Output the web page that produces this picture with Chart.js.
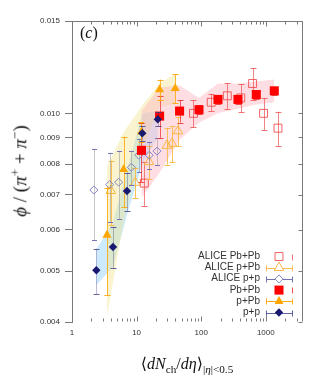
<!DOCTYPE html>
<html><head><meta charset="utf-8">
<script src="https://cdn.jsdelivr.net/npm/chart.js@4"></script>
<style>
html,body{margin:0;padding:0;background:#fff;}
#wrap{position:relative;width:332px;height:380px;overflow:hidden;}
canvas{position:absolute;left:0;top:0;}
.t{position:absolute;font-family:"Liberation Serif","DejaVu Serif",serif;color:#111;white-space:nowrap;}
.lg{position:absolute;right:72px;font-family:"Liberation Sans",Arial,sans-serif;font-size:10px;line-height:12px;color:#333;text-align:right;white-space:nowrap;}
sub,sup{font-size:70%;}
</style></head><body>
<div id="wrap">
<canvas id="c" width="332" height="380"></canvas>
<div class="t" id="lab" style="left:80px;top:25px;font-size:16px;line-height:16px;">(<i>c</i>)</div>
<div class="t" id="yt" style="left:18px;top:171px;font-size:19px;line-height:20px;transform:translate(-50%,-50%) rotate(-90deg);"><i>ϕ</i> / (<i>π</i><sup>+</sup> + <i>π</i><sup>−</sup>)</div>
<div class="t" id="xt" style="left:187px;top:356px;font-size:16px;line-height:16px;transform:translateX(-50%);">⟨<i>dN</i><sub>ch</sub>/<i>dη</i>⟩<sub>|<i>η</i>|&lt;0.5</sub></div>
<div id="legend"></div>
</div>
<script>
// ---- tick labels
const xTickVals = [1, 10, 100, 1000];
const yTickVals = [0.004, 0.005, 0.006, 0.007, 0.008, 0.009, 0.010, 0.015];

// ---- ALICE Pb+Pb
const alicePbPbX = [13.2, 76, 143, 254, 410, 625, 925, 1545];
const alicePbPbY = [0.00736, 0.0100, 0.0105, 0.0108, 0.0107, 0.0114, 0.0100, 0.00937];
const alicePbPbErr = [0.0007, 0.0006, 0.0004, 0.0006, 0.00066, 0.0008, 0.0007, 0.0007];
// ---- ALICE p+Pb
const alicePPbX = [3.99, 9.55, 15.6, 29.5, 35.3, 43.7];
const alicePPbY = [0.00712, 0.00738, 0.00808, 0.00868, 0.00876, 0.00925];
const alicePPbErr = [0.0010, 0.0005, 0.0006, 0.0007, 0.0007, 0.0006];
// ---- ALICE p+p
const alicePPX = [2.18, 3.82, 5.27, 8.28, 10.8, 15.7, 20.7];
const alicePPY = [0.00714, 0.00731, 0.00739, 0.00789, 0.00832, 0.00832, 0.00847];
const alicePPErr = [0.0014, 0.0011, 0.0011, 0.0006, 0.0006, 0.0005, 0.0005];
// ---- Pb+Pb
const pbpbX = [11.9, 22.7, 46.3, 92.5, 182, 371, 713, 1355];
const pbpbY = [0.0085, 0.00988, 0.0101, 0.01016, 0.01063, 0.01063, 0.01086, 0.01104];
const pbpbErr = [0.0011, 0.0009, 0.0005, 0.0002, 0.0002, 0.0002, 0.0002, 0.0002];
const pbpbLo = [0.0069, 0.0077, 0.0089, 0.0096, 0.0100, 0.0102, 0.0104, 0.0105];
const pbpbHi = [0.0101, 0.0112, 0.0113, 0.0107, 0.0114, 0.0114, 0.0115, 0.0116];
// ---- p+Pb
const ppbX = [3.48, 6.29, 11.9, 22.7, 39.7];
const ppbY = [0.00586, 0.00782, 0.00922, 0.0111, 0.01116];
const ppbErr = [0.00136, 0.0012, 0.0004, 0.0005, 0.0007];
const ppbLo = [0.0041, 0.0062, 0.0085, 0.0103, 0.0104];
const ppbHi = [0.0079, 0.0092, 0.0103, 0.0114, 0.0119];
// ---- p+p
const ppX = [2.38, 4.31, 7.10, 12.25, 21.3];
const ppY = [0.00502, 0.00556, 0.00711, 0.00916, 0.00974];
const ppErr = [0.0005, 0.0005, 0.0006, 0.0003, 0.0003];
const ppLo = [0.0047, 0.0051, 0.0064, 0.0080, 0.0090];
const ppHi = [0.0055, 0.0062, 0.0078, 0.0100, 0.0101];

const legendLabels = ['ALICE Pb+Pb', 'ALICE p+Pb', 'ALICE p+p', 'Pb+Pb', 'p+Pb', 'p+p'];

const pts = (xs, ys) => xs.map((x, i) => ({x: x, y: ys[i]}));

function band(xs, ys, color, isLower) {
  return { type: 'line', data: pts(xs, ys), pointRadius: 0, borderWidth: 0, tension: 0,
    backgroundColor: color, borderColor: 'rgba(0,0,0,0)', fill: isLower ? '-1' : false, order: 10 };
}

const datasets = [
  band(pbpbX, pbpbHi, 'rgba(255,182,193,0.45)', false),
  band(pbpbX, pbpbLo, 'rgba(255,182,193,0.45)', true),
  band(ppbX, ppbHi, 'rgba(240,228,140,0.42)', false),
  band(ppbX, ppbLo, 'rgba(240,228,140,0.42)', true),
  band(ppX, ppHi, 'rgba(135,206,250,0.42)', false),
  band(ppX, ppLo, 'rgba(135,206,250,0.42)', true),
  { label: 'ALICE Pb+Pb', data: pts(alicePbPbX, alicePbPbY), err: alicePbPbErr,
    errLine: 'rgba(238,80,80,0.7)', errCap: 'rgba(238,80,80,0.8)', capW: 3,
    pointStyle: 'rect', pointRadius: 5.6, borderWidth: 1, borderColor: 'rgba(240,70,70,0.85)',
    backgroundColor: 'rgba(0,0,0,0)', order: 6 },
  { label: 'ALICE p+Pb', data: pts(alicePPbX, alicePPbY), err: alicePPbErr,
    errLine: 'rgba(250,185,70,0.9)', errCap: 'rgba(250,185,70,0.95)', capW: 3,
    pointStyle: 'triangle', pointRadius: 5.5, borderWidth: 1, borderColor: '#f9b744',
    backgroundColor: 'rgba(0,0,0,0)', order: 5 },
  { label: 'ALICE p+p', data: pts(alicePPX, alicePPY), err: alicePPErr,
    errLine: 'rgba(140,140,150,0.5)', errCap: '#7474b4', capW: 2.5,
    pointStyle: 'rectRot', pointRadius: 4, borderWidth: 1, borderColor: '#8484c4',
    backgroundColor: 'rgba(0,0,0,0)', order: 4 },
  { label: 'Pb+Pb', data: pts(pbpbX, pbpbY), err: pbpbErr,
    errLine: 'rgba(235,50,50,0.75)', errCap: 'rgba(235,50,50,0.85)', capW: 3,
    pointStyle: 'rect', pointRadius: 6.4, borderWidth: 0, backgroundColor: '#ff0000', order: 3 },
  { label: 'p+Pb', data: pts(ppbX, ppbY), err: ppbErr,
    errLine: 'rgba(255,165,0,0.8)', errCap: 'rgba(255,165,0,0.9)', capW: 3,
    pointStyle: 'triangle', pointRadius: 5.2, borderWidth: 0, backgroundColor: '#ffa500', order: 2 },
  { label: 'p+p', data: pts(ppX, ppY), err: ppErr,
    errLine: 'rgba(25,25,112,0.3)', errCap: 'rgba(60,60,140,0.8)', capW: 3,
    pointStyle: 'rectRot', pointRadius: 4.2, borderWidth: 0, backgroundColor: '#191970', order: 1 }
];

const errPlugin = {
  id: 'errbars',
  beforeDatasetDraw(chart, args) {
    const ds = chart.data.datasets[args.index];
    if (!ds.err) return;
    const ctx = chart.ctx, xs = chart.scales.x, ys = chart.scales.y, a = chart.chartArea;
    ctx.save();
    ctx.beginPath(); ctx.rect(a.left, a.top, a.right - a.left, a.bottom - a.top); ctx.clip();
    ctx.lineWidth = 1;
    ds.data.forEach((p, i) => {
      const x = Math.round(xs.getPixelForValue(p.x)) + 0.5;
      const y1 = ys.getPixelForValue(p.y + ds.err[i]);
      const y2 = ys.getPixelForValue(p.y - ds.err[i]);
      ctx.strokeStyle = ds.errLine;
      ctx.beginPath(); ctx.moveTo(x, y1); ctx.lineTo(x, y2); ctx.stroke();
      ctx.strokeStyle = ds.errCap;
      ctx.beginPath();
      ctx.moveTo(x - ds.capW, Math.round(y1) + 0.5); ctx.lineTo(x + ds.capW, Math.round(y1) + 0.5);
      ctx.moveTo(x - ds.capW, Math.round(y2) + 0.5); ctx.lineTo(x + ds.capW, Math.round(y2) + 0.5);
      ctx.stroke();
    });
    ctx.restore();
  }
};

const framePlugin = {
  id: 'frame',
  afterDraw(chart) {
    const ctx = chart.ctx, a = chart.chartArea, xs = chart.scales.x, ys = chart.scales.y;
    const L = Math.round(a.left) + 0.5, R = Math.round(a.right) - 0.5, T = Math.round(a.top) + 0.5, B = Math.round(a.bottom) - 0.5;
    ctx.save();
    ctx.strokeStyle = '#7a7a7a'; ctx.lineWidth = 1;
    ctx.beginPath();
    ctx.moveTo(L, T); ctx.lineTo(R, T); ctx.lineTo(R, B);
    yTickVals.forEach(v => { const y = Math.round(ys.getPixelForValue(v)) + 0.5; ctx.moveTo(R, y); ctx.lineTo(R - 4, y); });
    xTickVals.forEach(d => {
      const xp = Math.round(xs.getPixelForValue(d)) + 0.5;
      if (xp > L + 1 && xp < R - 1) { ctx.moveTo(xp, T); ctx.lineTo(xp, T + 5); ctx.moveTo(xp, B); ctx.lineTo(xp, B - 5); }
      for (let k = 2; k <= 9; k++) {
        const v = k * d;
        if (v >= xs.max) break;
        const x = Math.round(xs.getPixelForValue(v)) + 0.5;
        ctx.moveTo(x, T); ctx.lineTo(x, T + 3); ctx.moveTo(x, B); ctx.lineTo(x, B - 3);
      }
    });
    ctx.stroke();
    ctx.restore();
  }
};

const legendRows = [256.5, 267.7, 278.9, 290.1, 301.3, 312.5];
const legendPlugin = {
  id: 'legendSymbols',
  afterDraw(chart) {
    const ctx = chart.ctx;
    const xm = 279, x0 = 266.5, x1 = 292.5;
    const pointDs = chart.data.datasets.filter(d => d.label);
    pointDs.forEach((ds, i) => {
      const y = Math.round(legendRows[i]) + 0.5;
      ctx.save();
      ctx.lineWidth = 1;
      ctx.strokeStyle = ds.errCap;
      ctx.beginPath();
      if (i === 0 || i === 3) {
        ctx.moveTo(x1, y - 3); ctx.lineTo(x1, y + 3);
      } else {
        ctx.moveTo(x0, y); ctx.lineTo(x1, y);
        ctx.moveTo(x0, y - 3); ctx.lineTo(x0, y + 3);
        ctx.moveTo(x1, y - 3); ctx.lineTo(x1, y + 3);
      }
      ctx.stroke();
      ctx.fillStyle = ds.backgroundColor === 'rgba(0,0,0,0)' ? '#ffffff' : ds.backgroundColor;
      ctx.strokeStyle = ds.borderColor || ds.backgroundColor;
      ctx.lineWidth = ds.borderWidth;
      Chart.helpers.drawPoint(ctx, { pointStyle: ds.pointStyle, radius: ds.pointRadius, rotation: 0, borderWidth: ds.borderWidth }, xm, legendRows[i]);
      ctx.restore();
    });
  }
};

const lg = document.getElementById('legend');
legendLabels.forEach((t, i) => {
  const d = document.createElement('div');
  d.className = 'lg';
  d.style.top = (legendRows[i] - 6.5) + 'px';
  d.textContent = t;
  lg.appendChild(d);
});

const tickFont = { family: '"Liberation Sans", Arial, sans-serif', size: 8 };

new Chart(document.getElementById('c'), {
  type: 'scatter',
  data: { datasets: datasets },
  options: {
    responsive: false, animation: false, events: [],
    layout: { padding: { left: 0, right: 29, top: 21, bottom: 0 } },
    plugins: { legend: { display: false }, tooltip: { enabled: false } },
    scales: {
      x: {
        type: 'logarithmic', min: 1, max: 3770,
        afterFit(s) { s.height = 58; },
        afterBuildTicks(s) { s.ticks = xTickVals.map(v => ({ value: v })); },
        ticks: { autoSkip: false, maxRotation: 0, padding: 6, color: '#333', font: tickFont,
                 callback: v => String(v) },
        grid: { display: false, drawTicks: false },
        border: { display: false }
      },
      y: {
        type: 'logarithmic', min: 0.004, max: 0.015,
        afterFit(s) { s.width = 72; },
        afterBuildTicks(s) { s.ticks = yTickVals.map(v => ({ value: v })); },
        ticks: { autoSkip: false, padding: 5, color: '#333', font: tickFont,
                 callback: v => Number(v).toFixed(3) },
        grid: { drawOnChartArea: false, drawTicks: true, tickLength: 7, color: '#7a7a7a' },
        border: { display: true, color: '#7a7a7a' }
      }
    }
  },
  plugins: [errPlugin, framePlugin, legendPlugin]
});
</script>
</body></html>
